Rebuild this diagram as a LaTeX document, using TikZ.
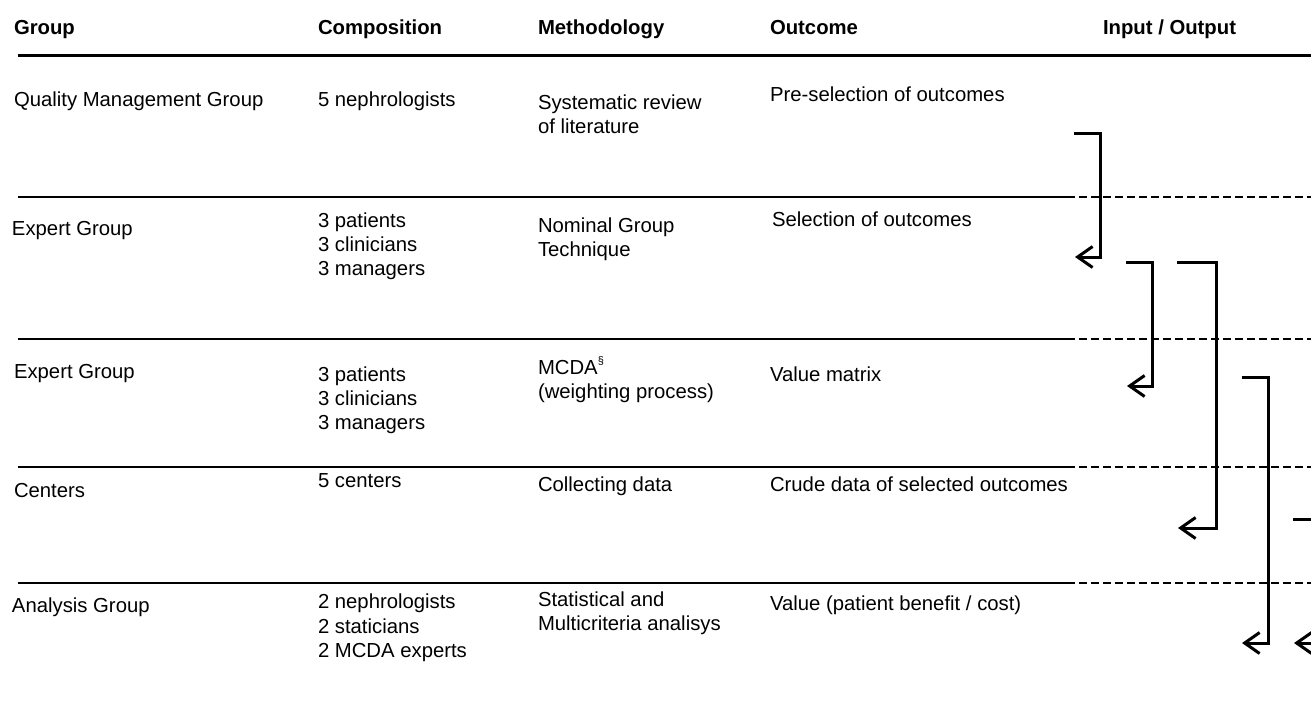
\documentclass[tikz,border=0pt]{standalone}
\usepackage{fontspec}
\setmainfont{Liberation Sans}
\usetikzlibrary{arrows.meta}
\begin{document}
\begin{tikzpicture}[x=1pt,y=-1pt,
  txt/.style={anchor=base west,inner sep=0pt,outer sep=0pt,font=\fontsize{20.3}{24}\selectfont},
  hdr/.style={txt,font=\fontsize{20.3}{24}\selectfont\bfseries},
  rule/.style={line width=2.5pt},
  dashrule/.style={line width=2pt,dash pattern=on 8pt off 4pt},
  flow/.style={line width=3pt,line join=miter,-{Straight Barb[length=15pt,width=21pt,line width=3pt]}}]
\clip (0,0) rectangle (1311,705);
\useasboundingbox (0,0) rectangle (1311,705);

% column headings
\node[hdr] (hGroup) at (14,34) {Group};
\node[hdr] (hComp)  at (318,34) {Composition};
\node[hdr] (hMeth)  at (538,34) {Methodology};
\node[hdr] (hOut)   at (770,34) {Outcome};
\node[hdr] (hIO)    at (1103,34) {Input / Output};
\draw[line width=3pt] (18,55) -- (1311,55);

% row separators: solid across the table, dashed through the input/output column
\foreach \y in {197,339,467,583}{
  \draw[rule] (18,\y) -- (1067,\y);
  \draw[dashrule] (1067,\y) -- (1311,\y);
}

% row 1
\node[txt] (g1)  at (14,106) {Quality Management Group};
\node[txt] (c1)  at (318,106) {5 nephrologists};
\node[txt] (m1a) at (538,109) {Systematic review};
\node[txt] (m1b) at (538,133) {of literature};
\node[txt] (o1)  at (770,101) {Pre-selection of outcomes};

% row 2
\node[txt] (g2)  at (12,235) {Expert Group};
\node[txt] (c2a) at (318,227) {3 patients};
\node[txt] (c2b) at (318,251) {3 clinicians};
\node[txt] (c2c) at (318,275) {3 managers};
\node[txt] (m2a) at (538,232) {Nominal Group};
\node[txt] (m2b) at (538,256) {Technique};
\node[txt] (o2)  at (772,226) {Selection of outcomes};

% row 3
\node[txt] (g3)  at (14,378) {Expert Group};
\node[txt] (c3a) at (318,381) {3 patients};
\node[txt] (c3b) at (318,405) {3 clinicians};
\node[txt] (c3c) at (318,429) {3 managers};
\node[txt] (m3a) at (538,374) {MCDA\raisebox{0.45em}{\fontsize{11}{13}\selectfont\S}};
\node[txt] (m3b) at (538,398) {(weighting process)};
\node[txt] (o3)  at (770,381) {Value matrix};

% row 4
\node[txt] (g4)  at (14,497) {Centers};
\node[txt] (c4)  at (318,487) {5 centers};
\node[txt] (m4)  at (538,491) {Collecting data};
\node[txt] (o4)  at (770,491) {Crude data of selected outcomes};

% row 5
\node[txt] (g5)  at (12,612) {Analysis Group};
\node[txt] (c5a) at (318,608) {2 nephrologists};
\node[txt] (c5b) at (318,633) {2 staticians};
\node[txt] (c5c) at (318,657) {2 MCDA experts};
\node[txt] (m5a) at (538,606) {Statistical and};
\node[txt] (m5b) at (538,630) {Multicriteria analisys};
\node[txt] (o5)  at (770,610) {Value (patient benefit / cost)};

% input / output links
\coordinate (aS) at (1074,133); \coordinate (aE) at (1075,257);
\coordinate (bS) at (1126,262); \coordinate (bE) at (1127,386);
\coordinate (cS) at (1177,262); \coordinate (cE) at (1178,528);
\coordinate (dS) at (1242,377); \coordinate (dE) at (1242,643);
\coordinate (eS) at (1293,519); \coordinate (eE) at (1294,643);
\draw[flow] (aS) -- (1100,133) -- (1100,257) -- (aE);
\draw[flow] (bS) -- (1152,262) -- (1152,386) -- (bE);
\draw[flow] (cS) -- (1216,262) -- (1216,528) -- (cE);
\draw[flow] (dS) -- (1268,377) -- (1268,643) -- (dE);
\draw[flow] (eS) -- (1325,519) -- (1325,643) -- (eE);
\end{tikzpicture}
\end{document}
